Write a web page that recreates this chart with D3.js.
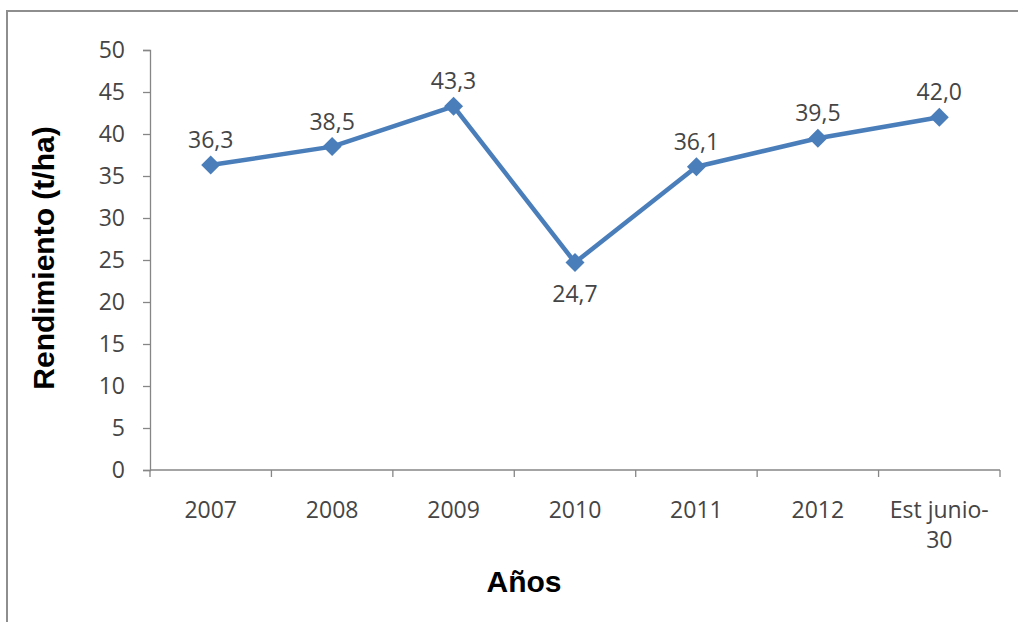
<!DOCTYPE html>
<html>
<head>
<meta charset="utf-8">
<script src="https://cdn.jsdelivr.net/npm/d3@7"></script>
<style>
  html, body { margin: 0; padding: 0; background: #fff; }
  svg { display: block; }
</style>
</head>
<body>
<svg id="chart" width="1018" height="622"></svg>
<script>
// Yield per year (t/ha)
const categories = ["2007", "2008", "2009", "2010", "2011", "2012", "Est junio-30"];
const yieldValues = [36.3, 38.5, 43.3, 24.7, 36.1, 39.5, 42.0];
const yTicks = [0, 5, 10, 15, 20, 25, 30, 35, 40, 45, 50];
const labelBelow = [false, false, false, true, false, false, false];

const svg = d3.select("#chart");
const W = 1018, H = 622;

// outer chart frame (top and left edges visible in the window)
svg.append("rect")
  .attr("x", 7).attr("y", 11)
  .attr("width", W + 20).attr("height", H + 20)
  .attr("fill", "#fff")
  .attr("stroke", "#8e8e8e").attr("stroke-width", 2);

const plot = { left: 150, right: 1000, top: 50, bottom: 470 };

const x = d3.scaleBand().domain(categories).range([plot.left, plot.right]).padding(0);
const y = d3.scaleLinear().domain([0, 50]).range([plot.bottom, plot.top]);

const axisColor = "#868686";
const textColor = "#454545";
const tickFont = "'Open Sans', 'Noto Sans', sans-serif";
const tickSize = "23px";

// Y axis
const yAxis = svg.append("g")
  .attr("transform", `translate(${plot.left},0)`)
  .call(d3.axisLeft(y).tickValues(yTicks).tickSize(7).tickPadding(18).tickFormat(d3.format("d")));
yAxis.select(".domain").attr("stroke", axisColor).attr("stroke-width", 1.3);
yAxis.selectAll(".tick line").attr("stroke", axisColor).attr("stroke-width", 1.3);
yAxis.selectAll(".tick text")
  .attr("fill", textColor)
  .style("font-family", tickFont)
  .style("font-size", tickSize);

// X axis: ticks sit on the band boundaries
const xAxisG = svg.append("g").attr("transform", `translate(0,${plot.bottom})`);
xAxisG.append("line")
  .attr("x1", plot.left).attr("x2", plot.right)
  .attr("y1", 0).attr("y2", 0)
  .attr("stroke", axisColor).attr("stroke-width", 1.3);
const boundaries = categories.map(c => x(c)).concat([plot.right]);
xAxisG.selectAll("line.tk").data(boundaries).join("line")
  .attr("class", "tk")
  .attr("x1", d => d).attr("x2", d => d)
  .attr("y1", 0).attr("y2", 7)
  .attr("stroke", axisColor).attr("stroke-width", 1.3);

// category labels (last one wraps onto two lines)
const catLines = {"Est junio-30": ["Est junio-", "30"]};
const catText = xAxisG.selectAll("text.cat").data(categories).join("text")
  .attr("class", "cat")
  .attr("x", d => x(d) + x.bandwidth() / 2)
  .attr("y", 48)
  .attr("text-anchor", "middle")
  .attr("fill", textColor)
  .style("font-family", tickFont)
  .style("font-size", tickSize);
catText.each(function(d) {
  const lines = catLines[d] || [d];
  const t = d3.select(this);
  lines.forEach((ln, i) => {
    t.append("tspan")
      .attr("x", x(d) + x.bandwidth() / 2)
      .attr("dy", i === 0 ? 0 : 30)
      .text(ln);
  });
});

// Axis titles
svg.append("text")
  .attr("transform", `translate(54,258) rotate(-90)`)
  .attr("text-anchor", "middle")
  .attr("fill", "#000")
  .style("font-family", "'Liberation Sans', Arial, sans-serif")
  .style("font-weight", "bold")
  .style("font-size", "30px")
  .text("Rendimiento (t/ha)");

svg.append("text")
  .attr("x", 524).attr("y", 592)
  .attr("text-anchor", "middle")
  .attr("fill", "#000")
  .style("font-family", "'Liberation Sans', Arial, sans-serif")
  .style("font-weight", "bold")
  .style("font-size", "30px")
  .text("Años");

// Series line
const pts = categories.map((c, i) => ({ c, v: yieldValues[i], below: labelBelow[i] }));
const cx = d => x(d.c) + x.bandwidth() / 2;

svg.append("path")
  .datum(pts)
  .attr("fill", "none")
  .attr("stroke", "#4a7ebb")
  .attr("stroke-width", 4.5)
  .attr("stroke-linejoin", "round")
  .attr("d", d3.line().x(cx).y(d => y(d.v)));

// Diamond markers
svg.selectAll("path.mk").data(pts).join("path")
  .attr("class", "mk")
  .attr("transform", d => `translate(${cx(d)},${y(d.v)})`)
  .attr("d", d3.symbol(d3.symbolDiamond2, 230)())
  .attr("fill", "#4a7ebb");

// Value labels
svg.selectAll("text.val").data(pts).join("text")
  .attr("class", "val")
  .attr("x", cx)
  .attr("y", d => d.below ? y(d.v) + 39 : y(d.v) - 17)
  .attr("text-anchor", "middle")
  .attr("fill", textColor)
  .style("font-family", tickFont)
  .style("font-size", tickSize)
  .text(d => d3.format(".1f")(d.v).replace(".", ","));
</script>
</body>
</html>
